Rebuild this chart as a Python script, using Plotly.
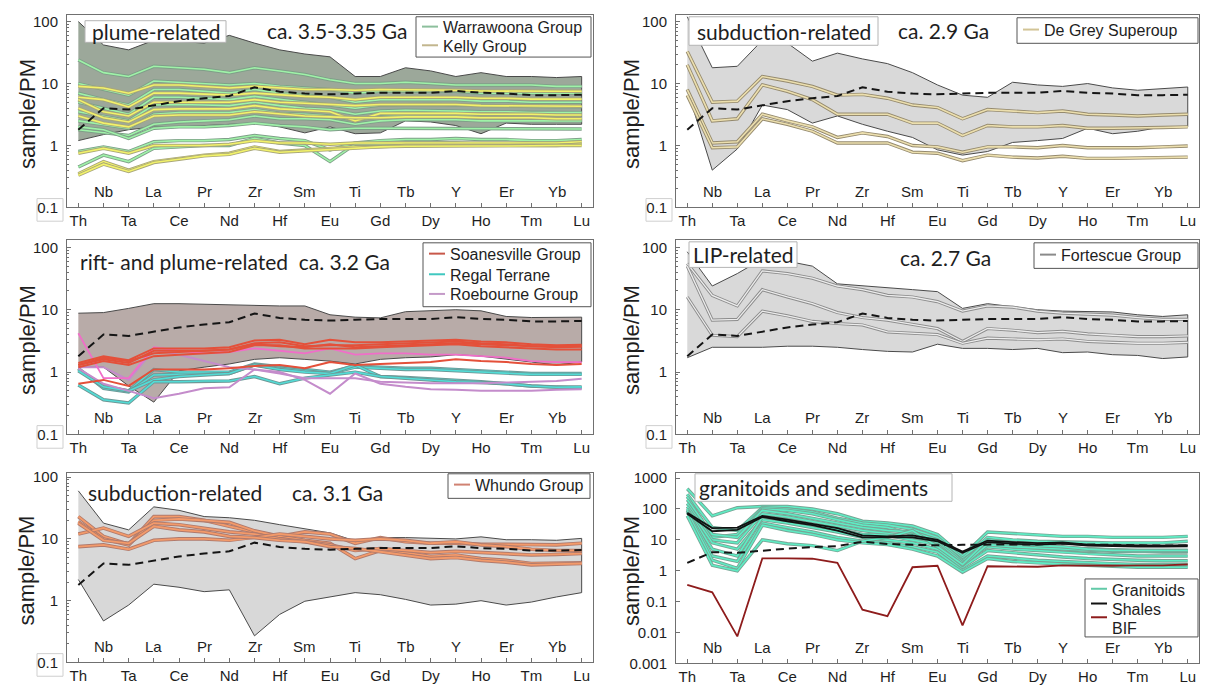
import plotly.graph_objects as go

W, H = 1208, 698

elements = ["Th", "Nb", "Ta", "La", "Ce", "Pr", "Nd", "Zr", "Hf", "Sm", "Eu",
            "Ti", "Gd", "Tb", "Dy", "Y", "Ho", "Er", "Tm", "Yb", "Lu"]

# reference composition drawn dashed in every panel
reference = [1.8, 4.0, 3.8, 4.5, 5.2, 5.8, 6.3, 8.7, 7.4, 6.9, 6.7, 6.9, 7.1, 7.1, 7.1, 7.6, 7.1, 6.9, 6.5, 6.5, 6.6]

# ---------- plume-related, ca. 3.5-3.35 Ga ----------
plume_upper = [100, 42, 35, 50, 48, 45, 60, 45, 35, 30, 27, 13, 13, 18, 16, 13, 15, 13, 13, 12.5, 13]
plume_lower = [1.2, 1.5, 1.8, 2.0, 2.0, 2.1, 2.2, 2.3, 2.0, 1.6, 2.0, 1.55, 1.6, 2.5, 2.4, 2.1, 1.55, 2.3, 2.2, 2.2, 2.2]
warrawoona = [
    [24, 15, 13, 19, 18, 17, 15, 18, 16, 14, 11.5, 10, 10, 10.5, 10, 9.5, 9.5, 9.5, 9.5, 9, 9],
    [10, 8, 6.5, 11, 10.5, 10, 9.5, 10, 9, 8.5, 8, 7, 7.5, 7.5, 7.5, 7.5, 7, 7, 7, 7, 7],
    [7, 5.5, 4.5, 8, 8, 7.5, 7, 8, 7, 6.5, 6, 5, 5.5, 5.5, 5.5, 5.5, 5.2, 5.2, 5.0, 5, 5],
    [5, 4, 3.2, 6, 6, 5.8, 5.5, 6.2, 5.5, 5, 4.5, 4.0, 4.5, 4.6, 4.6, 4.5, 4.4, 4.3, 4.2, 4.2, 4.2],
    [3.5, 3, 2.5, 4.5, 4.6, 4.5, 4.4, 5, 4.4, 4.0, 3.8, 3.2, 3.6, 3.7, 3.7, 3.6, 3.5, 3.5, 3.4, 3.4, 3.4],
    [2.5, 2.2, 1.9, 3.2, 3.4, 3.4, 3.4, 3.8, 3.3, 3.2, 3.0, 2.6, 2.9, 3.0, 3.0, 3.0, 2.9, 2.9, 2.8, 2.8, 2.8],
    [1.8, 1.6, 1.45, 2.2, 2.4, 2.5, 2.6, 3.0, 2.7, 2.7, 2.6, 2.2, 2.5, 2.6, 2.6, 2.6, 2.5, 2.5, 2.5, 2.5, 2.5],
    [2.0, 1.8, 1.3, 1.9, 2.0, 2.0, 2.1, 2.3, 2.1, 2.0, 1.8, 1.9, 1.9, 1.9, 1.9, 1.9, 1.85, 1.85, 1.85, 1.85, 1.85],
    [0.8, 0.95, 0.8, 1.15, 1.2, 1.2, 1.25, 1.45, 1.3, 1.2, 0.85, 1.1, 1.2, 1.25, 1.25, 1.3, 1.25, 1.25, 1.2, 1.2, 1.25],
    [0.45, 0.7, 0.55, 0.9, 0.95, 1.0, 1.0, 1.3, 1.1, 1.0, 0.55, 1.05, 1.05, 1.1, 1.1, 1.1, 1.05, 1.05, 1.05, 1.05, 1.05],
]
kelly = [
    [9, 8.5, 7, 9.5, 9.5, 9, 8.5, 9, 8.5, 8, 8, 7.8, 8, 8, 7.8, 7.8, 7.6, 7.5, 7.5, 7.5, 7.5],
    [6, 5.5, 4.2, 7, 7, 6.8, 6.5, 7, 6.5, 6.2, 6, 5.5, 6, 6, 6, 6, 5.8, 5.8, 5.6, 5.6, 5.6],
    [5.5, 3.5, 3, 5, 5, 5, 5, 5.5, 5, 4.8, 4.6, 4.4, 4.6, 4.6, 4.6, 4.6, 4.4, 4.4, 4.3, 4.3, 4.3],
    [4, 2.8, 2.4, 3.8, 3.9, 3.9, 3.9, 4.4, 3.9, 3.7, 3.5, 2.5, 3.3, 3.3, 3.3, 3.3, 3.2, 3.2, 3.2, 3.1, 3.1],
    [3, 2.3, 2.0, 3.0, 3.1, 3.1, 3.1, 3.5, 3.2, 3.0, 2.9, 2.8, 2.8, 2.9, 2.9, 2.9, 2.8, 2.8, 2.8, 2.7, 2.7],
    [0.75, 0.9, 0.75, 1.0, 1.0, 1.0, 1.05, 1.2, 1.1, 1.1, 1.05, 1.1, 1.1, 1.1, 1.1, 1.1, 1.1, 1.1, 1.1, 1.1, 1.15],
    [0.35, 0.55, 0.4, 0.55, 0.62, 0.7, 0.75, 0.95, 0.8, 0.85, 0.9, 0.95, 0.95, 1.0, 1.0, 1.0, 1.0, 1.0, 1.0, 1.0, 1.05],
    [0.33, 0.5, 0.38, 0.53, 0.6, 0.68, 0.72, 0.9, 0.78, 0.82, 0.88, 0.92, 0.95, 0.97, 0.98, 0.98, 0.98, 0.98, 1.0, 1.0, 1.0],
]

# ---------- subduction-related, ca. 2.9 Ga ----------
degrey_upper = [120, 18, 19, 50, 45, 23, 31, 25, 21, 15, 9.5, 6.5, 6, 10.5, 9.5, 9, 10, 8.5, 7.8, 8.3, 8.8]
degrey_lower = [8, 0.4, 0.88, 4.5, 3.8, 2.3, 3.0, 2.2, 1.7, 1.35, 0.85, 0.7, 0.8, 1.12, 1.2, 1.3, 1.9, 1.55, 1.7, 2.0, 2.0]
degrey = [
    [33, 5, 5.2, 13, 11, 9, 6.5, 6.7, 5.8, 4.5, 4.1, 2.7, 3.8, 3.6, 3.4, 3.6, 3.2, 3.1, 3.0, 3.1, 3.2],
    [20, 2.5, 2.7, 9.5, 7.5, 5.5, 3.2, 3.2, 3.2, 2.3, 2.3, 1.45, 2.1, 2.0, 2.0, 2.1, 1.9, 1.9, 1.9, 1.95, 2.0],
    [8, 1.1, 1.15, 3.2, 2.5, 2.0, 1.35, 1.6, 1.4, 1.0, 0.95, 0.78, 0.95, 0.95, 0.92, 1.0, 0.92, 0.92, 0.92, 0.95, 0.98],
    [6.5, 0.92, 0.95, 2.7, 2.2, 1.7, 1.1, 1.1, 1.1, 0.78, 0.75, 0.57, 0.7, 0.65, 0.63, 0.67, 0.62, 0.62, 0.63, 0.64, 0.65],
]

# ---------- rift- and plume-related, ca. 3.2 Ga ----------
rift_upper = [8.8, 9.0, 10.5, 12.5, 12.5, 12.2, 12, 11.7, 11.5, 11.5, 8.3, 7.6, 7.4, 9.3, 9.6, 10, 9.6, 7.8, 7.5, 7.6, 7.6]
rift_lower = [1.2, 1.2, 0.6, 0.33, 1.05, 1.2, 1.35, 1.6, 1.7, 1.6, 1.5, 1.35, 1.6, 1.7, 1.75, 1.9, 1.8, 1.6, 1.45, 1.3, 1.45]
soanesville = [
    [1.4, 1.8, 1.55, 2.4, 2.4, 2.4, 2.5, 3.2, 3.3, 2.8, 3.3, 3.0, 3.0, 3.1, 3.2, 3.3, 3.1, 3.0, 2.8, 2.7, 2.75],
    [1.3, 1.6, 1.4, 2.2, 2.2, 2.2, 2.3, 2.9, 3.0, 2.6, 2.7, 2.7, 2.8, 2.9, 3.0, 3.1, 2.9, 2.8, 2.6, 2.6, 2.6],
    [1.3, 1.7, 1.5, 2.0, 2.1, 2.2, 2.3, 2.8, 2.6, 2.5, 2.8, 2.5, 2.6, 2.7, 2.8, 2.9, 2.8, 2.7, 2.55, 2.5, 2.55],
    [1.2, 1.5, 1.3, 1.8, 1.9, 2.0, 2.1, 2.7, 2.7, 2.4, 2.4, 2.4, 2.5, 2.6, 2.7, 2.8, 2.6, 2.5, 2.4, 2.3, 2.3],
    [0.65, 0.75, 0.6, 1.1, 1.1, 1.1, 1.15, 1.25, 1.3, 1.15, 1.45, 1.3, 1.35, 1.4, 1.45, 1.6, 1.5, 1.45, 1.35, 1.3, 1.35],
]
regal = [
    [1.1, 0.6, 0.5, 1.1, 1.0, 1.0, 1.0, 1.35, 1.2, 1.1, 1.0, 1.25, 1.2, 1.15, 1.15, 1.1, 1.05, 1.0, 0.95, 0.95, 0.95],
    [1.15, 0.55, 0.48, 0.9, 0.92, 0.92, 0.95, 1.3, 1.15, 1.05, 0.95, 1.2, 1.15, 1.1, 1.1, 1.05, 1.0, 0.98, 0.92, 0.92, 0.92],
    [1.05, 0.58, 0.5, 0.75, 0.85, 0.9, 0.95, 1.3, 1.1, 1.0, 0.95, 1.3, 0.85, 0.82, 0.78, 0.75, 0.7, 0.65, 0.6, 0.58, 0.56],
    [0.62, 0.36, 0.32, 0.7, 0.7, 0.72, 0.72, 0.85, 0.65, 0.8, 0.9, 1.0, 0.85, 0.8, 0.75, 0.7, 0.68, 0.65, 0.6, 0.57, 0.58],
]
roebourne = [
    [4.2, 0.8, 0.8, 2.5, 2.2, 2.0, 2.1, 2.4, 2.2, 2.0, 2.4, 1.9, 2.0, 2.0, 1.9, 1.9, 1.8, 1.7, 1.5, 1.45, 1.45],
    [1.2, 1.2, 0.75, 2.3, 1.9, 1.5, 1.2, 1.1, 1.0, 0.75, 0.45, 0.95, 0.65, 0.58, 0.53, 0.52, 0.5, 0.5, 0.5, 0.52, 0.53],
    [1.15, 0.65, 0.5, 0.38, 0.45, 0.55, 0.57, 1.1, 0.95, 0.8, 0.8, 0.8, 0.7, 0.68, 0.66, 0.66, 0.66, 0.68, 0.7, 0.72, 0.78],
]

# ---------- LIP-related, ca. 2.7 Ga ----------
lip_upper = [85, 24, 38, 65, 60, 50, 26, 24, 22.5, 21, 19.5, 10.5, 12.5, 11.2, 10, 9.5, 9.3, 9.2, 8.3, 7.8, 8.3]
lip_lower = [1.7, 2.5, 2.5, 2.5, 2.6, 2.6, 2.5, 2.3, 2.15, 2.1, 2.8, 2.4, 2.4, 2.3, 2.4, 2.05, 2.1, 1.9, 1.85, 1.65, 1.75]
fortescue = [
    [55, 17, 11.5, 42, 38, 32, 24, 21, 17, 16, 13.5, 9.5, 11.5, 11, 9.5, 8.8, 8.5, 8.2, 7.5, 7.0, 7.0],
    [50, 6.8, 7.0, 21, 16, 12.5, 9, 7.5, 6.8, 5.8, 5.0, 3.1, 5.0, 4.7, 4.3, 4.5, 4.1, 3.9, 3.7, 3.7, 3.8],
    [16, 3.9, 3.7, 9.5, 8, 6.5, 6.0, 5.7, 4.4, 4.2, 4.0, 2.9, 3.5, 3.4, 3.3, 3.4, 3.1, 3.0, 2.9, 2.9, 3.0],
]

# ---------- subduction-related, ca. 3.1 Ga ----------
whundo_upper = [60, 18, 14, 33, 29, 23, 22, 20, 17, 14.5, 12.5, 9.3, 10.5, 10.5, 10.3, 10, 10.8, 9.7, 9.7, 9.5, 10.2]
whundo_lower = [2.2, 0.47, 0.85, 1.85, 1.65, 1.4, 1.5, 0.27, 0.6, 0.98, 1.15, 1.35, 1.25, 1.05, 0.85, 0.88, 1.0, 0.85, 0.95, 1.15, 1.35]
whundo = [
    [23, 11, 8.2, 23, 23, 20, 16, 13, 11, 9.5, 8.5, 4.8, 6.5, 6.0, 5.2, 5.5, 4.8, 4.5, 4.0, 4.1, 4.1],
    [19, 10, 8, 20, 21, 20, 18.5, 13.5, 11, 13, 12, 8.5, 10.5, 9, 8.5, 8.5, 8.2, 8.2, 8.0, 8.0, 8.5],
    [12, 15, 11, 18, 17, 15, 13, 12, 10, 9, 8, 6.5, 7, 6.5, 6, 6.3, 6, 5.8, 5.5, 5.6, 5.8],
    [7.5, 8, 6.8, 9.5, 10, 10, 9.5, 10.5, 12, 11, 10, 9.5, 10, 9.5, 8.5, 9, 8, 7.5, 6.8, 6.5, 6.5],
    [18, 9.5, 8.5, 16, 14, 13, 11, 10.5, 9.5, 9, 7.5, 7, 6.2, 5.5, 4.8, 5.0, 4.5, 4.2, 3.8, 3.9, 4.0],
]

# ---------- granitoids and sediments ----------
granitoids = [
    [450, 60, 110, 120, 120, 100, 70, 40, 35, 28, 15, 3, 18, 16, 14, 13, 13, 12, 12, 12, 13],
    [300, 25, 20, 110, 100, 80, 50, 35, 30, 22, 12, 2.5, 12, 10, 9, 8.5, 8, 8, 8, 8, 9],
    [250, 12, 15, 100, 90, 70, 45, 30, 25, 15, 9, 2.2, 8, 7, 6, 5.5, 5, 4.8, 4.5, 4.5, 4.5],
    [200, 15, 12, 90, 70, 50, 35, 25, 20, 18, 10, 2.0, 9, 7, 6, 5.5, 5, 4.5, 4.2, 4, 4],
    [150, 10, 8, 70, 55, 40, 28, 20, 16, 12, 8, 1.8, 6, 5, 4.5, 4, 3.5, 3.3, 3, 3, 3],
    [120, 8, 5, 45, 35, 25, 18, 12, 10, 8, 5, 1.3, 4.5, 3.8, 3.2, 2.8, 2.5, 2.3, 2.2, 2.1, 2.1],
    [100, 5, 3, 55, 45, 30, 22, 15, 14, 10, 7, 1.5, 7, 6, 5.5, 5, 4.5, 4.3, 4.2, 4.2, 4.3],
    [90, 3, 2, 35, 25, 18, 12, 9, 8, 6, 4, 1.0, 3, 2.5, 2.2, 2, 1.8, 1.7, 1.6, 1.6, 1.6],
    [80, 2.2, 1.2, 30, 20, 15, 10, 8, 7, 5, 3, 0.9, 2.5, 2, 1.8, 1.6, 1.5, 1.4, 1.3, 1.3, 1.3],
    [60, 1.5, 1.0, 10, 7.5, 6.5, 4.5, 9, 12, 20, 6, 1.6, 10, 8, 6.5, 6, 5, 4.5, 4.5, 4.5, 4.5],
]
shales = [
    [75, 24, 25, 60, 45, 33, 24, 14, 13, 14, 10, 4.2, 9.5, 8.5, 7.8, 8.2, 7, 6.8, 6.5, 6.5, 6.8],
    [70, 19, 21, 55, 40, 30, 20, 12, 12, 12, 9, 3.8, 8.5, 7.5, 7, 7.5, 6.5, 6.2, 6, 6, 6.2],
]
bif = [0.35, 0.2, 0.0075, 2.5, 2.5, 2.45, 1.8, 0.055, 0.034, 1.3, 1.45, 0.017, 1.4, 1.35, 1.35, 1.5, 1.45, 1.45, 1.5, 1.5, 1.6]

FONT = "Liberation Sans, Arial, sans-serif"
LABEL_FONT = "Lato, Noto Sans, sans-serif"
LABEL_SIZE = 21
TEXT = "#1e1e1e"
FRAME = "#707070"

# panel frames in pixels (left, top, right, bottom) and log-y ranges
panels = {
    1: dict(box=(67, 11, 593, 207), yrange=[-1, 2.11], ticks=[0.1, 1, 10, 100]),
    2: dict(box=(676, 11, 1199, 207), yrange=[-1, 2.11], ticks=[0.1, 1, 10, 100]),
    3: dict(box=(67, 240, 593, 438), yrange=[-1, 2.12], ticks=[0.1, 1, 10, 100]),
    4: dict(box=(676, 240, 1199, 438), yrange=[-1, 2.12], ticks=[0.1, 1, 10, 100]),
    5: dict(box=(67, 477, 593, 670), yrange=[-1, 2.07], ticks=[0.1, 1, 10, 100]),
    6: dict(box=(676, 477, 1199, 671), yrange=[-3, 3.17],
            ticks=[0.001, 0.01, 0.1, 1, 10, 100, 1000]),
}


def px(x):
    return x / W


def py(y):
    return 1 - y / H


def tick_text(v):
    return "{:g}".format(v)


fig = go.Figure()


def axes(n):
    return ("x" if n == 1 else f"x{n}"), ("y" if n == 1 else f"y{n}")


def add_envelope(n, upper, lower, fill):
    xa, ya = axes(n)
    fig.add_trace(go.Scatter(
        x=elements + elements[::-1], y=upper + lower[::-1],
        mode="lines", fill="toself", fillcolor=fill,
        line=dict(color="#4a4a4a", width=1), xaxis=xa, yaxis=ya, hoverinfo="skip"))


def add_series(n, rows, color, edge=None, width=1.6):
    xa, ya = axes(n)
    for row in rows:
        if edge:
            fig.add_trace(go.Scatter(x=elements, y=row, mode="lines",
                                     line=dict(color=edge, width=width + 1.8),
                                     xaxis=xa, yaxis=ya, hoverinfo="skip"))
        fig.add_trace(go.Scatter(x=elements, y=row, mode="lines",
                                 line=dict(color=color, width=width),
                                 xaxis=xa, yaxis=ya, hoverinfo="skip"))


def add_reference(n):
    xa, ya = axes(n)
    fig.add_trace(go.Scatter(x=elements, y=reference, mode="lines",
                             line=dict(color="#151515", width=2, dash="8px,5px"),
                             xaxis=xa, yaxis=ya, hoverinfo="skip"))


# plume-related
add_envelope(1, plume_upper, plume_lower, "rgb(156,168,154)")
add_series(1, warrawoona, "#9ff2a8", "#7e9f88")
add_series(1, kelly, "#f2f26a", "#a9a779")
add_reference(1)

# subduction-related 2.9 Ga
add_envelope(2, degrey_upper, degrey_lower, "rgb(217,217,217)")
add_series(2, degrey, "#ecdfae", "#958a6e")
add_reference(2)

# rift- and plume-related
add_envelope(3, rift_upper, rift_lower, "rgb(184,171,168)")
add_series(3, regal, "#52dcd6", "#6d9896")
add_series(3, roebourne[1:], "#c48ccb", None, 2.0)
add_series(3, roebourne[:1], "#f06ec8", None, 1.8)
add_series(3, soanesville, "#e4503a", None, 2.0)
add_reference(3)

# LIP-related
add_envelope(4, lip_upper, lip_lower, "rgb(217,217,217)")
add_series(4, fortescue, "#ececec", "#8c8c8c", 1.3)
add_reference(4)

# subduction-related 3.1 Ga
add_envelope(5, whundo_upper, whundo_lower, "rgb(216,216,216)")
add_series(5, whundo, "#f39a6a", "#b07a6c", 1.8)
add_reference(5)

# granitoids and sediments
add_series(6, granitoids, "#5eecc4", "#76a595", 1.6)
add_series(6, shales, "#111111", None, 1.8)
add_series(6, [bif], "#8e1c1c", None, 1.8)
add_reference(6)

annotations = []
shapes = []

for n, p in panels.items():
    x0, y0, x1, y1 = p["box"]
    xa, ya = axes(n)
    xkey = "xaxis" if n == 1 else f"xaxis{n}"
    ykey = "yaxis" if n == 1 else f"yaxis{n}"
    lo, hi = p["yrange"]
    minor_vals = [k * 10 ** e for e in range(int(lo), int(hi) + 1) for k in range(2, 10)]
    fig.update_layout(**{
        xkey: dict(domain=[px(x0), px(x1)], anchor=ya, type="category",
                   categoryorder="array", categoryarray=elements,
                   range=[-0.45, 20.45], tickmode="array", tickvals=elements,
                   ticktext=[e if i % 2 == 0 else "" for i, e in enumerate(elements)],
                   ticks="inside", ticklen=4, tickcolor=FRAME, showgrid=False,
                   zeroline=False, showline=True, linecolor=FRAME, linewidth=1,
                   mirror=True, tickfont=dict(family=FONT, size=15, color=TEXT),
                   fixedrange=True),
        ykey: dict(domain=[py(y1), py(y0)], anchor=xa, type="log", range=[lo, hi],
                   tickmode="array", tickvals=p["ticks"],
                   ticktext=[tick_text(v) for v in p["ticks"]],
                   ticks="inside", ticklen=4, tickcolor=FRAME,
                   minor=(dict(tickmode="array", tickvals=minor_vals, ticks="inside",
                               ticklen=2, tickcolor=FRAME, showgrid=False)
                          if n != 6 else None),
                   showgrid=False, zeroline=False, showline=True, linecolor=FRAME,
                   linewidth=1, mirror=True, ticklabelstandoff=5,
                   tickfont=dict(family=FONT, size=15, color=TEXT), fixedrange=True),
    })
    # odd elements labelled inside the frame
    for i, e in enumerate(elements):
        if i % 2 == 1:
            annotations.append(dict(x=i, y=0.085, xref=xa, yref=f"{ya} domain",
                                    xanchor="center", yanchor="middle",
                                    text=e, showarrow=False,
                                    font=dict(family=FONT, size=15, color=TEXT)))
    # axis title
    tx = 27 if x0 < 600 else 631
    annotations.append(dict(x=px(tx), y=py((y0 + y1) / 2 + 3), xref="paper", yref="paper",
                            xanchor="center", yanchor="middle",
                            text="sample/PM", textangle=-90, showarrow=False,
                            font=dict(family=FONT, size=22, color=TEXT)))
    # small frame around the lowest tick label
    if n != 6:
        bx1 = x0 - 4
        shapes.append(dict(type="rect", xref="paper", yref="paper",
                           x0=px(bx1 - 26), x1=px(bx1), y0=py(y1 + 14), y1=py(y1 - 9),
                           line=dict(color="#cfcfcf", width=1), layer="below"))


def text_box(box, label, left=None):
    bx0, by0, bx1, by1 = box
    shapes.append(dict(type="rect", xref="paper", yref="paper",
                       x0=px(bx0), x1=px(bx1), y0=py(by1), y1=py(by0),
                       fillcolor="white", line=dict(color="#b4b4b4", width=1), layer="above"))
    if left is None:
        pos, anchor = (bx0 + bx1) / 2, "center"
    else:
        pos, anchor = left, "left"
    annotations.append(dict(x=px(pos), y=py((by0 + by1) / 2), xref="paper", yref="paper",
                            text=label, showarrow=False, xanchor=anchor, yanchor="middle",
                            font=dict(family=LABEL_FONT, size=LABEL_SIZE, color=TEXT)))


def plain_text(x, y, label, anchor="center"):
    annotations.append(dict(x=px(x), y=py(y), xref="paper", yref="paper", text=label,
                            xanchor=anchor, yanchor="middle", showarrow=False,
                            font=dict(family=LABEL_FONT, size=LABEL_SIZE, color=TEXT)))


def legend_box(box, entries):
    bx0, by0, bx1, by1 = box
    shapes.append(dict(type="rect", xref="paper", yref="paper",
                       x0=px(bx0), x1=px(bx1), y0=py(by1), y1=py(by0),
                       fillcolor="white", line=dict(color="#555555", width=1), layer="above"))
    for label, color, ty, ly in entries:
        shapes.append(dict(type="line", xref="paper", yref="paper",
                           x0=px(bx0 + 6), x1=px(bx0 + 22), y0=py(ly), y1=py(ly),
                           line=dict(color=color, width=2), layer="above"))
        annotations.append(dict(x=px(bx0 + 25), y=py(ty), xref="paper", yref="paper",
                                text=label, xanchor="left", yanchor="middle", showarrow=False,
                                font=dict(family=FONT, size=16, color=TEXT)))


text_box((85, 17, 226, 39), "plume-related")
plain_text(337, 27, "ca. 3.5-3.35 Ga")
legend_box((416, 13, 591, 54), [("Warrawoona Group", "#8cbf9c", 24, 23),
                                ("Kelly Group", "#c2b68e", 43, 42)])

text_box((689, 13, 878, 42), "subduction-related")
plain_text(943, 27, "ca. 2.9 Ga")
legend_box((1017, 14, 1198, 40), [("De Grey Superoup", "#d2c496", 27, 26)])

plain_text(78, 262, "rift- and plume-related\u00a0\u00a0ca. 3.2 Ga", "left")
legend_box((423, 243, 591, 308), [("Soanesville Group", "#c8584a", 255, 254),
                                  ("Regal Terrane", "#40c8c0", 276, 275),
                                  ("Roebourne Group", "#c49ac8", 296, 295)])

text_box((689, 242, 797, 268), "LIP-related")
plain_text(945, 258, "ca. 2.7 Ga")
legend_box((1034, 243, 1198, 269), [("Fortescue Group", "#8a8a8a", 256, 255)])

plain_text(86, 497, "subduction-related", "left")
plain_text(337, 497, "ca. 3.1 Ga")
legend_box((448, 478, 590, 503), [("Whundo Group", "#d08272", 490, 489)])

text_box((695, 478, 952, 506), "granitoids and sediments", left=697)
legend_box((1085, 585, 1198, 644), [("Granitoids", "#62caa8", 597, 595),
                                    ("Shales", "#111111", 616, 610),
                                    ("BIF", "#8e1c1c", 635, 624)])

fig.update_layout(
    width=W, height=H, margin=dict(l=0, r=0, t=0, b=0),
    paper_bgcolor="white", plot_bgcolor="white", showlegend=False,
    annotations=annotations, shapes=shapes,
)

fig.write_html("out.html")
